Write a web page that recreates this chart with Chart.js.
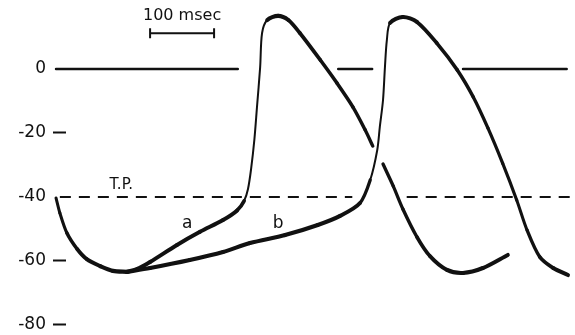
<!DOCTYPE html>
<html>
<head>
<meta charset="utf-8">
<script src="https://cdn.jsdelivr.net/npm/chart.js@4"></script>
<style>
  html, body { margin: 0; padding: 0; background: #fff; }
  canvas { display: block; }
</style>
</head>
<body>
<canvas id="apChart" width="575" height="335"></canvas>
<script>
// time in msec, membrane potential in mV
const yTicks = [0, -20, -40, -60, -80];

// shared repolarisation trough
const trunkT = [0, 6, 17, 33, 48, 69, 89, 111];
const trunkV = [-40.3, -45, -51.25, -56.25, -59.4, -61.6, -63.1, -63.4];

// branch a (steep prepotential), broken where it crosses the b upstroke
const aT = [111, 127, 147, 189, 225, 261, 283, 294, 300, 305, 310, 314, 319, 322, 330, 347, 363, 381, 413, 439, 464, 483, 495,
            null,
            511, 527, 542, 564, 584, 611, 636, 667, 706];
const aV = [-63.4, -62.5, -60.3, -55, -50.9, -47.2, -44.2, -41.2, -37.5, -31, -22, -12, 0.6, 11.25, 15.3, 16.6, 15.3, 11.25, 2.8, -4.4, -11.9, -19, -24.1,
            null,
            -29.7, -36.6, -43.75, -52.5, -58.4, -62.8, -63.75, -62.2, -58.1];

// branch b (shallow prepotential)
const bT = [111, 147, 209, 261, 303, 358, 409, 444, 475, 491, 502, 506, 511, 514, 517, 522, 542, 564, 595, 627, 652, 675, 698, 720, 736, 756, 777, 800];
const bV = [-63.4, -62.2, -59.7, -57.2, -54.4, -51.9, -48.75, -45.9, -41.9, -34.7, -25.3, -18.1, -9.7, 0.6, 9, 14.4, 16.25, 14.7, 8.1, -0.3, -8.75, -18.5, -29.5, -41, -50.3, -58.75, -62.2, -64.4];

// zero reference line, broken where the spikes cross it
const zeroSegs = [[0, 284], [441, 494], [636, 798]];
// threshold potential
const tpV = -40;
const tpSegs = [[6, 463], [548, 808]];

const scaleBarMs = 100;
const tMin = 15.6, tMax = 811;
const vMin = -83.13, vMax = 21.56;

function pts(ts, vs) {
  return ts.map((t, i) => (t === null ? { x: null, y: null } : { x: t, y: vs[i] }));
}
function segPts(segs, v) {
  const out = [];
  segs.forEach((s, i) => {
    if (i > 0) out.push({ x: null, y: null });
    out.push({ x: s[0], y: v }, { x: s[1], y: v });
  });
  return out;
}

const ink = '#111';

const traceBase = {
  borderColor: ink,
  pointRadius: 0,
  fill: false,
  clip: false,
  spanGaps: false,
  tension: 0.3,
  borderCapStyle: 'round',
  borderJoinStyle: 'round'
};

// thin on the fast upstroke, heavier as the trace flattens out
function widthBySlope(ctx) {
  const dx = Math.abs(ctx.p1.x - ctx.p0.x) || 0.01, dy = ctx.p1.y - ctx.p0.y;
  if (dy < 0 && -dy > 2.5 * dx) return 2;
  const s = Math.min(1, Math.abs(dy) / dx / 3);
  return 4.2 - 1.2 * s;
}

const labelPlugin = {
  id: 'apLabels',
  afterDraw(chart) {
    const { ctx, scales: { x, y } } = chart;
    ctx.save();
    ctx.fillStyle = ink;
    ctx.textBaseline = 'middle';
    ctx.textAlign = 'center';
    ctx.font = '17px "DejaVu Sans", sans-serif';
    ctx.fillText('a', x.getPixelForValue(205), y.getPixelForValue(-48.3));
    ctx.fillText('b', x.getPixelForValue(347), y.getPixelForValue(-48.3));
    ctx.font = '15px "DejaVu Sans", sans-serif';
    ctx.fillText('T.P.', x.getPixelForValue(102), y.getPixelForValue(-36.2));

    // time calibration bar
    const x0 = x.getPixelForValue(147), x1 = x.getPixelForValue(147 + scaleBarMs);
    const yb = y.getPixelForValue(11.2);
    ctx.strokeStyle = ink;
    ctx.lineWidth = 2;
    ctx.beginPath();
    ctx.moveTo(x0, yb); ctx.lineTo(x1, yb);
    ctx.moveTo(x0, yb - 5); ctx.lineTo(x0, yb + 5);
    ctx.moveTo(x1, yb - 5); ctx.lineTo(x1, yb + 5);
    ctx.stroke();
    ctx.font = '16px "DejaVu Sans", sans-serif';
    ctx.fillText('100 msec', (x0 + x1) / 2, y.getPixelForValue(16.6));
    ctx.restore();
  }
};

new Chart(document.getElementById('apChart').getContext('2d'), {
  type: 'line',
  data: {
    datasets: [
      { ...traceBase, data: segPts(zeroSegs, 0), borderWidth: 2.5, tension: 0 },
      { ...traceBase, data: segPts(tpSegs, tpV), borderWidth: 2, borderDash: [11, 8], borderCapStyle: 'butt', tension: 0 },
      { ...traceBase, data: pts(trunkT, trunkV), segment: { borderWidth: widthBySlope } },
      { ...traceBase, data: pts(aT, aV), segment: { borderWidth: widthBySlope } },
      { ...traceBase, data: pts(bT, bV), segment: { borderWidth: widthBySlope } }
    ]
  },
  options: {
    responsive: false,
    animation: false,
    devicePixelRatio: 1,
    layout: { padding: 0 },
    plugins: { legend: { display: false }, tooltip: { enabled: false } },
    scales: {
      x: {
        type: 'linear',
        display: false,
        bounds: 'data',
        // range set here so points left of the plot area are not trimmed
        afterDataLimits(scale) {
          scale.min = tMin;
          scale.max = tMax;
        },
        afterBuildTicks(scale) {
          scale.min = tMin;
          scale.max = tMax;
        }
      },
      y: {
        type: 'linear',
        min: vMin,
        max: vMax,
        afterBuildTicks(scale) {
          scale.ticks = yTicks.map(v => ({ value: v }));
        },
        afterFit(scale) {
          scale.width = 66;
          scale.paddingTop = 0;
          scale.paddingBottom = 0;
        },
        border: { display: false },
        grid: {
          drawOnChartArea: false,
          drawTicks: true,
          tickLength: 13,
          tickWidth: 2,
          tickColor: ctx => (ctx.tick && (ctx.tick.value === 0 || ctx.tick.value === -40) ? 'rgba(0,0,0,0)' : ink)
        },
        ticks: {
          autoSkip: false,
          padding: 7,
          color: ink,
          font: { family: '"DejaVu Sans", sans-serif', size: 17 },
          callback: v => String(v)
        }
      }
    }
  },
  plugins: [labelPlugin]
});
</script>
</body>
</html>
